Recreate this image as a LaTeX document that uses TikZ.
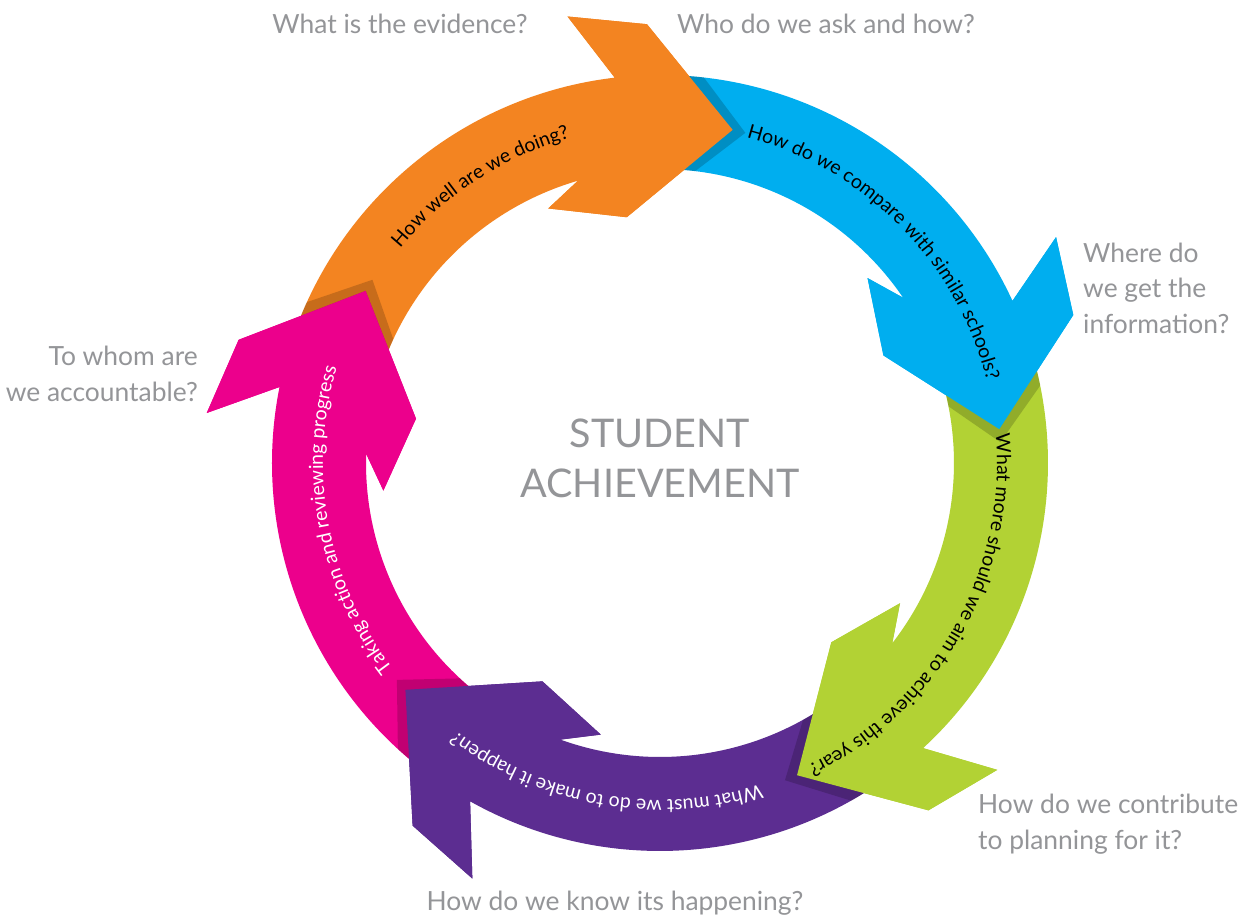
\documentclass[tikz,border=0pt]{standalone}
\usepackage{fontspec}
\setmainfont{Lato}
\usetikzlibrary{decorations.text}

\definecolor{cOrange}{RGB}{243,132,33}
\definecolor{cBlue}{RGB}{0,174,239}
\definecolor{cGreen}{RGB}{178,210,52}
\definecolor{cPurple}{RGB}{92,45,145}
\definecolor{cPink}{RGB}{236,0,140}
\definecolor{labelgrey}{RGB}{148,149,152}

% ring radii
\newcommand\Rout{388}
\newcommand\Rin{294}

% one whole arrow (tail band + chevron head); #1 = angle of the tip
\newcommand\arrowbody[1]{({#1+87}:\Rout) arc[start angle={#1+87}, end angle={#1+19}, radius=\Rout]
  -- ({#1+24}:456) -- ({#1+14}:439) -- ({#1}:341) -- ({#1+20}:248) -- ({#1+36}:278)
  -- ({#1+28.5}:\Rin) arc[start angle={#1+28.5}, end angle={#1+87}, radius=\Rin] -- cycle}

% the chevron head alone
\newcommand\arrowhead[1]{({#1+19}:\Rout) -- ({#1+24}:456) -- ({#1+14}:439) -- ({#1}:341)
  -- ({#1+20}:248) -- ({#1+36}:278) -- ({#1+28.5}:\Rin) -- cycle}

\newcommand\arrowfont{\fontsize{19.5}{19.5}\selectfont}

\tikzset{
  outerlabel/.style={text=labelgrey, font=\fontsize{26.4}{35.5}\selectfont, inner sep=0pt},
  bandtext/.style 2 args={decorate, decoration={text along path, text align=center,
      text color=#1, text={|\arrowfont|#2}}},
}

\begin{document}
\begin{tikzpicture}[x=1pt, y=1pt]
\useasboundingbox (-660,-457) rectangle (594,463);
\fill[white] (-660,-457) rectangle (594,463);

% arrow bodies
\foreach \T/\c in {77.7/cOrange, 5.7/cBlue, -66.3/cGreen, -138.3/cPurple, -210.3/cPink}{
  \fill[\c] \arrowbody{\T};
}

% shadow of each head on the following band, then the head on top
\foreach \T/\c in {77.7/cOrange, 5.7/cBlue, -66.3/cGreen, -138.3/cPurple, -210.3/cPink}{
  \begin{scope}
    \clip (0:\Rout) arc[start angle=0, end angle=360, radius=\Rout]
      -- (360:\Rin) arc[start angle=360, end angle=0, radius=\Rin] -- cycle;
    \fill[black, opacity=.18] \arrowhead{\T-2.2};
  \end{scope}
  \fill[\c] \arrowhead{\T};
}

% texts along the bands
\path[bandtext={black}{How well are we doing?}]
  (163:337) arc[start angle=163, end angle=83, radius=337];
\path[bandtext={black}{How do we compare with similar schools?}]
  (84.6:337) arc[start angle=84.6, end angle=4.6, radius=337];
\path[bandtext={black}{What more should we aim to achieve this year?}]
  (10.5:337) arc[start angle=10.5, end angle=-69.5, radius=337];
\path[bandtext={white}{What must we do to make it happen?}]
  (-59.9:337) arc[start angle=-59.9, end angle=-139.9, radius=337];
\path[bandtext={white}{Taking action and reviewing progress}]
  (230.5:337) arc[start angle=230.5, end angle=150.5, radius=337];

% centre title
\node[text=labelgrey, font=\fontsize{39.5}{50}\selectfont, align=center, inner sep=0pt]
  (title) at (0,5) {STUDENT\\ACHIEVEMENT};

% surrounding questions
\node[outerlabel] (evidence) at (-260,439) {What is the evidence?};
\node[outerlabel] (ask) at (166,439) {Who do we ask and how?};
\node[outerlabel, align=left, anchor=west] (where) at (423,175) {Where do\\we get the\\information?};
\node[outerlabel, align=right, anchor=east] (whom) at (-462,89) {To whom are\\we accountable?};
\node[outerlabel, align=left, anchor=west] (contribute) at (318,-361) {How do we contribute\\to planning for it?};
\node[outerlabel] (know) at (-45,-440) {How do we know its happening?};
\end{tikzpicture}
\end{document}
